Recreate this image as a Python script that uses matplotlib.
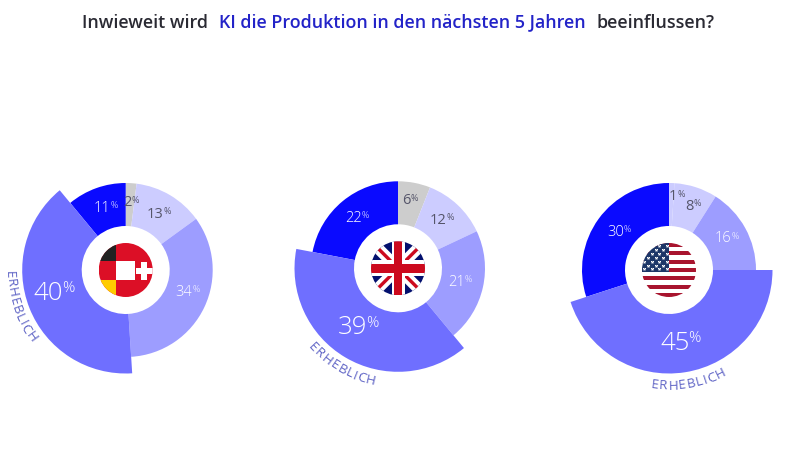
#!/usr/bin/env python3
"""Three exploded donuts: expected influence of AI on production, by region."""

import matplotlib

matplotlib.use("Agg")
import matplotlib.pyplot as plt
import numpy as np
from matplotlib.font_manager import FontProperties
from matplotlib.patches import Circle, Polygon, Rectangle, Wedge
from matplotlib.textpath import text_to_path

FONT = "Open Sans"
matplotlib.rcParams["font.family"] = [FONT, "DejaVu Sans"]

TITLE_PARTS = ["Inwieweit wird", "KI die Produktion in den nächsten 5 Jahren", "beeinflussen?"]
DACH_VALUES = [2, 13, 34, 40, 11]
UK_VALUES = [6, 12, 21, 39, 22]
US_VALUES = [1, 8, 16, 45, 30]
HIGHLIGHT = "ERHEBLICH"

GREY = "#cdcdcd"
PALE = "#ccccff"
LIGHT = "#9d9dff"
MID = "#6f6fff"
DEEP = "#0a0aff"
DACH_COLORS = [GREY, PALE, LIGHT, MID, DEEP]
UK_COLORS = [GREY, PALE, LIGHT, MID, DEEP]
US_COLORS = [PALE, PALE, LIGHT, MID, DEEP]

HEIGHT = 450
INNER_R = 44
OUTER_R = 87
BIG_R = 103.5
FLAG_R = 27
BIG_SLICE = 3

# label anchors in image pixels: left edge of number, centre of number height
DACH_LABELS = [(123.5, 203), (147, 214), (175.5, 292), (33.5, 293), (93.5, 208)]
UK_LABELS = [(402.5, 201), (430, 220), (448, 282), (338, 328), (345, 218)]
US_LABELS = [(669, 197), (685, 206), (715, 239), (660, 343), (607, 232)]
LABEL_COLORS = ["#55556a", "#55556a", "#ffffff", "#ffffff", "#ffffff"]
LABEL_WEIGHTS = ["normal", "normal", "light", "light", "light"]


def py(y):
    return HEIGHT - y


def draw_label(ax, x, y, value, color, weight, big):
    size = 18.5 if big else 10.5
    small = 11 if big else 6.5
    num = ax.text(x, py(y), str(value), fontsize=size, color=color, fontweight=weight, ha="left", va="center")
    width = num.get_window_extent(ax.figure.canvas.get_renderer()).width
    ax.text(x + width - (1 if big else 0), py(y) + (4.5 if big else 2.5), "%", fontsize=small, color=color,
            fontweight=weight, ha="left", va="center")


def text_width(text, prop):
    width, _, _ = text_to_path.get_text_width_height_descent(text, prop, ismath=False)
    return width * 100 / 72


def draw_curved(ax, cx, cy, text, radius, middle_deg):
    # phi runs clockwise from the bottom of the circle, letter tops face the centre
    size = 9.6
    tracking = 0.7
    prop = FontProperties(family=FONT, size=size)
    total = text_width(text, prop) + tracking * (len(text) - 1)
    for i, char in enumerate(text):
        start = text_width(text[:i], prop) + i * tracking if i else 0
        offset = start + text_width(char, prop) / 2 - total / 2
        phi = np.radians(middle_deg) - offset / radius
        x = cx - radius * np.sin(phi)
        y = py(cy) - radius * np.cos(phi)
        ax.text(x, y, char, fontsize=size, color="#5b60c4", ha="center", va="center",
                rotation=-np.degrees(phi), rotation_mode="anchor")


def add_flag_parts(ax, shapes, clip):
    for shape in shapes:
        shape.set_linewidth(0)
        shape.set_zorder(5)
        ax.add_patch(shape)
        shape.set_clip_path(clip)


def flag_dach(ax, cx, cy, clip):
    y0 = py(cy)
    add_flag_parts(ax, [
        Rectangle((cx - FLAG_R, y0 - FLAG_R), 2 * FLAG_R, 2 * FLAG_R, facecolor="#dc0f26"),
        Rectangle((cx - FLAG_R, y0 + 9), FLAG_R - 10, FLAG_R - 9, facecolor="#222222"),
        Rectangle((cx - FLAG_R, y0 - FLAG_R), FLAG_R - 10, FLAG_R - 10, facecolor="#ffcc00"),
        Rectangle((cx - 10, y0 - 10), 19, 19, facecolor="white"),
        Rectangle((cx + 10, y0 - 4.3), 18, 6.6, facecolor="white"),
        Rectangle((cx + 15.7, y0 - 10), 5.6, 18, facecolor="white"),
    ], clip)


def flag_uk(ax, cx, cy, clip):
    y0 = py(cy)
    r = FLAG_R
    shapes = [Rectangle((cx - r, y0 - r), 2 * r, 2 * r, facecolor="#03106e")]
    for sign in (1, -1):
        shapes.append(Polygon([(cx - r - 4, y0 - sign * (r - 4)), (cx - r + 4, y0 - sign * (r + 4)),
                               (cx + r + 4, y0 + sign * (r - 4)), (cx + r - 4, y0 + sign * (r + 4))], facecolor="white"))
        shapes.append(Polygon([(cx - r - 1.2, y0 - sign * (r - 1.2)), (cx - r + 1.2, y0 - sign * (r + 1.2)),
                               (cx + r + 1.2, y0 + sign * (r - 1.2)), (cx + r - 1.2, y0 + sign * (r + 1.2))], facecolor="#cc0a1e"))
    shapes += [
        Rectangle((cx - 6.5, y0 - r), 13, 2 * r, facecolor="white"),
        Rectangle((cx - r, y0 - 8), 2 * r, 16, facecolor="white"),
        Rectangle((cx - 4.2, y0 - r), 8.4, 2 * r, facecolor="#cc0a1e"),
        Rectangle((cx - r, y0 - 4.5), 2 * r, 9, facecolor="#cc0a1e"),
    ]
    add_flag_parts(ax, shapes, clip)


def flag_us(ax, cx, cy, clip):
    y0 = py(cy)
    r = FLAG_R
    step = 2 * r / 13
    shapes = [Rectangle((cx - r, y0 - r), 2 * r, 2 * r, facecolor="white")]
    for i in range(0, 13, 2):
        shapes.append(Rectangle((cx - r, y0 + r - (i + 1) * step), 2 * r, step, facecolor="#a8142e"))
    shapes.append(Rectangle((cx - r, y0 + r - 7 * step), r, 7 * step, facecolor="#1c3668"))
    add_flag_parts(ax, shapes, clip)
    for row in range(7):
        xs = np.arange(cx - r + (2 if row % 2 == 0 else 6), cx, 7.5)
        stars = ax.scatter(xs, np.full(len(xs), y0 + r - 3 - row * 3.9), s=7, marker="*", color="white", linewidths=0, zorder=6)
        stars.set_clip_path(clip)


def draw_donut(ax, cx, cy, values, colors, labels, flag, middle_deg):
    start = 90.0
    total = sum(values)
    for i, value in enumerate(values):
        sweep = 360 * value / total
        radius = BIG_R if i == BIG_SLICE else OUTER_R
        ax.add_patch(Wedge((cx, py(cy)), radius, start - sweep, start, width=radius - INNER_R,
                           facecolor=colors[i], edgecolor="none", zorder=2 + (i == BIG_SLICE)))
        start -= sweep
    for i, value in enumerate(values):
        draw_label(ax, labels[i][0], labels[i][1], value, LABEL_COLORS[i], LABEL_WEIGHTS[i], i == BIG_SLICE)
    clip = Circle((cx, py(cy)), FLAG_R, transform=ax.transData)
    flag(ax, cx, cy, clip)
    draw_curved(ax, cx, cy, HIGHLIGHT, 116, middle_deg)


def main():
    fig = plt.figure(figsize=(8, 4.5), dpi=100, facecolor="white")
    ax = fig.add_axes([0, 0, 1, 1])
    ax.set_xlim(0, 800)
    ax.set_ylim(0, HEIGHT)
    ax.axis("off")

    title_colors = ["#2a2a33", "#2323c8", "#2a2a33"]
    title_x = [82, 219, 596.5]
    for part, color, x in zip(TITLE_PARTS, title_colors, title_x):
        ax.text(x, py(27.5), part, fontsize=12.9, fontweight=600, color=color, ha="left", va="baseline")

    draw_donut(ax, 125.7, 270, DACH_VALUES, DACH_COLORS, DACH_LABELS, flag_dach, 71)
    draw_donut(ax, 398, 268.3, UK_VALUES, UK_COLORS, UK_LABELS, flag_uk, 30)
    draw_donut(ax, 669, 270, US_VALUES, US_COLORS, US_LABELS, flag_us, -10)

    fig.savefig("out.png", dpi=100)


if __name__ == "__main__":
    main()
